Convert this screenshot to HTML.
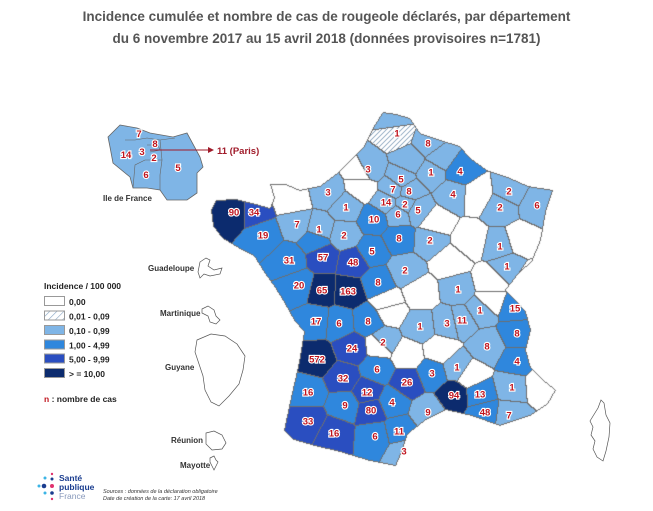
<!DOCTYPE html>
<html><head><meta charset="utf-8">
<style>
html,body{margin:0;padding:0;background:#fff;}
#wrap{position:relative;width:653px;height:511px;overflow:hidden;font-family:"Liberation Sans",sans-serif;}
.title{position:absolute;left:0;width:653px;text-align:center;font-weight:bold;font-size:13.5px;color:#555;}
canvas{position:absolute;left:0;top:0;}
svg{position:absolute;left:0;top:0;}
.il{font-size:9.5px;font-weight:bold;fill:#c0141e;stroke:#fff;stroke-width:2.2px;paint-order:stroke;text-anchor:middle;}
</style></head>
<body>
<div id="wrap">
<div class="title" style="top:9px">Incidence cumulée et nombre de cas de rougeole déclarés, par département</div>
<div class="title" style="top:31px">du 6 novembre 2017 au 15 avril 2018 (données provisoires n=1781)</div>
<canvas id="cv" width="653" height="511"></canvas>
<svg id="sv" width="653" height="511">
<defs><pattern id="hatch" width="5" height="5" patternUnits="userSpaceOnUse" patternTransform="rotate(45)"><rect width="5" height="5" fill="#fff"/><line x1="0" y1="0" x2="0" y2="5" stroke="#8aa7c4" stroke-width="1.2"/></pattern></defs>
<g>
<polygon points="120,125 137,128 150,133 173,137 187,133 200,157 203,167 197,173 197,193 187,200 167,200 160,190 147,188 133,188 130,177 113,163 110,147 108,137" fill="#7fb5e6" stroke="#666" stroke-width="0.8"/>
<polyline points="125,140 135,140 147,138 160,140 175,138" fill="none" stroke="#666" stroke-width="0.6"/>
<polyline points="160,140 162,160 160,175 160,190" fill="none" stroke="#666" stroke-width="0.6"/>
<polyline points="133,188 135,165 145,160 162,160" fill="none" stroke="#666" stroke-width="0.6"/>
<polyline points="147,145 158,145 160,150 150,152" fill="none" stroke="#666" stroke-width="0.6"/>
<text class="il" x="139" y="137">7</text>
<text class="il" x="155" y="147">8</text>
<text class="il" x="126" y="158">14</text>
<text class="il" x="142" y="155">3</text>
<text class="il" x="154" y="161">2</text>
<text class="il" x="146" y="178">6</text>
<text class="il" x="178" y="171">5</text>
</g>
<line x1="150" y1="150" x2="208" y2="150" stroke="#a01b2a" stroke-width="1"/>
<polygon points="208,147 214,150 208,153" fill="#a01b2a"/>
<text x="217" y="154" font-size="9.5" font-weight="bold" fill="#a01b2a">11 (Paris)</text>
<text x="103" y="201" font-size="8" font-weight="bold" fill="#333">Ile de France</text>
<g fill="none" stroke="#555" stroke-width="0.7">
<path d="M200,262 l6,-4 l4,2 l-2,6 l6,4 l8,-2 l-2,6 l-10,2 l-6,-2 l-4,4 l-2,-6 z"/>
<path d="M202,309 l6,-3 l6,4 l2,6 l4,4 l-4,4 l-6,-2 l-2,-6 l-6,-3 z"/>
<path d="M197,340 l14,-6 l14,2 l12,8 l8,12 l-2,14 l-4,14 l-10,12 l-10,10 l-8,-4 l-6,-12 l-2,-14 l-4,-12 l-4,-12 z"/>
<path d="M206,433 l8,-2 l8,4 l4,8 l-4,6 l-10,1 l-6,-6 z"/>
<path d="M210,458 l4,-2 l2,4 l2,2 l-2,4 l-2,4 l-2,-4 l-2,-4 z"/>
<path d="M598,408 l3,-8 l3,3 l2,12 l4,8 l-1,14 l-3,14 l-3,10 l-6,-4 l-4,-8 l2,-8 l-4,-6 l2,-8 l-3,-6 z"/>
</g>
<g font-size="8" font-weight="bold" fill="#333">
<text x="148" y="271">Guadeloupe</text>
<text x="160" y="316">Martinique</text>
<text x="165" y="370">Guyane</text>
<text x="171" y="443">Réunion</text>
<text x="180" y="468">Mayotte</text>
</g>
<g font-size="8.5" font-weight="bold" fill="#222">
<text x="44" y="289">Incidence / 100 000</text>
<rect x="44.5" y="296.5" width="20" height="9" fill="#fff" stroke="#999"/><text x="69" y="305">0,00</text>
<rect x="44.5" y="311" width="20" height="9" fill="url(#hatch)" stroke="#999"/><text x="69" y="319.5">0,01 - 0,09</text>
<rect x="44.5" y="325.5" width="20" height="9" fill="#7fb5e6" stroke="#999"/><text x="69" y="334">0,10 - 0,99</text>
<rect x="44.5" y="340" width="20" height="9" fill="#2f87dd" stroke="#999"/><text x="69" y="348.5">1,00 - 4,99</text>
<rect x="44.5" y="354" width="20" height="9" fill="#2a4ec0" stroke="#999"/><text x="69" y="362.5">5,00 - 9,99</text>
<rect x="44.5" y="368.5" width="20" height="9" fill="#0c2b6e" stroke="#999"/><text x="69" y="377">&gt; = 10,00</text>
<text x="44" y="402"><tspan fill="#c0141e">n</tspan> : nombre de cas</text>
</g>
<g>
<circle cx="52" cy="474" r="1.2" fill="#e0326e"/><circle cx="45" cy="478" r="1.5" fill="#3bb4e5"/><circle cx="52" cy="479" r="1.5" fill="#1a3d8f"/>
<circle cx="39" cy="486" r="1.5" fill="#3bb4e5"/><circle cx="44" cy="486" r="2.3" fill="#1a3d8f"/><circle cx="52" cy="486" r="2" fill="#e0326e"/>
<circle cx="45" cy="493" r="1.5" fill="#3bb4e5"/><circle cx="52" cy="493" r="1.8" fill="#1a3d8f"/><circle cx="52" cy="499" r="1.2" fill="#e0326e"/>
<text x="59" y="481" font-size="8.5" fill="#1a3d8f" font-weight="bold">Santé</text>
<text x="59" y="490" font-size="8.5" fill="#1a3d8f" font-weight="bold">publique</text>
<text x="59" y="499" font-size="8.5" fill="#8899bb">France</text>
</g>
<text x="103" y="493" font-size="5.5" font-style="italic" fill="#333">Sources : données de la déclaration obligatoire</text>
<text x="103" y="500" font-size="5.5" font-style="italic" fill="#333">Date de création de la carte: 17 avril 2018</text>
<g id="labels"></g>
</svg>
</div>
<script>
const deptX = [397,428,460,431,368,401,453,393,409,386,405,398,418,328,292,362,346,234,254,263,297,319,344,374,399,372,430,289,323,353,378,405,299,322,348,509,500,537,477,470,450,520,500,507,490,458,390,420,447,462,480,515,517,487,517,457,470,512,540,509,485,480,454,432,407,428,399,404,375,392,371,367,345,334,308,308,317,343,377,352,383,368,339,316,388,407,440,420,490,435,362,440,530,380,315,395,410];
const deptY = [133,143,171,172,169,179,194,189,191,202,204,214,210,192,200,187,207,212,212,235,224,229,235,219,238,251,240,260,257,262,282,270,285,290,291,191,207,205,195,240,262,240,246,266,282,289,310,326,323,320,310,308,333,346,361,367,375,387,385,415,412,394,395,373,382,412,431,451,436,402,410,392,405,433,421,392,359,378,369,348,342,321,323,321,303,355,350,293,300,222,172,158,280,345,240,120,160];
const deptClass = [1,2,3,2,2,2,2,2,2,2,2,2,2,2,0,0,2,5,4,3,2,2,2,3,3,3,2,3,4,4,3,2,3,5,5,2,2,2,0,0,0,0,2,2,0,2,0,2,2,2,2,3,3,2,3,2,0,2,0,2,3,3,5,3,4,2,3,2,3,3,4,4,3,4,4,3,5,4,3,4,2,3,3,3,0,0,0,0,0,0,0,2,0,0,3,2,2];
const deptCases = [1,8,4,1,3,5,4,7,8,14,2,6,5,3,-1,-1,1,90,34,19,7,1,2,10,8,5,2,31,57,48,8,2,20,65,163,2,2,6,-1,-1,-1,-1,1,1,-1,1,-1,1,3,11,1,15,8,8,4,1,-1,1,-1,7,48,13,94,3,26,9,11,3,6,4,80,12,9,16,33,16,572,32,6,24,2,8,6,17,-1,-1,-1,-1,-1,-1,-1,-1,-1,-1,-1,-1,-1];
const classColors = ['#ffffff','hatch','#7fb5e6','#2f87dd','#2a4ec0','#0c2b6e'];

const outline = [[383,112],[396,114],[410,118],[420,133],[440,140],[460,146],[470,158],[487,170],[510,178],[528,186],[553,190],[546,212],[541,240],[532,262],[520,272],[506,290],[516,300],[526,312],[531,330],[526,350],[531,368],[546,382],[556,390],[548,404],[530,416],[500,426],[472,416],[446,410],[426,420],[408,434],[402,452],[396,466],[370,461],[340,452],[315,446],[294,440],[284,430],[290,402],[299,362],[304,332],[294,320],[284,302],[274,286],[264,272],[254,256],[240,249],[222,238],[213,226],[211,210],[216,200],[236,199],[256,204],[270,208],[274,198],[270,184],[286,184],[300,190],[320,186],[336,174],[350,161],[364,146],[374,126]];

function inside(x,y){let c=false;for(let i=0,j=outline.length-1;i<outline.length;j=i++){const [xi,yi]=outline[i],[xj,yj]=outline[j];if(((yi>y)!=(yj>y))&&(x<(xj-xi)*(y-yi)/(yj-yi)+xi))c=!c;}return c;}
function hex(h){return [parseInt(h.substr(1,2),16),parseInt(h.substr(3,2),16),parseInt(h.substr(5,2),16)];}

const cv=document.getElementById('cv'),ctx=cv.getContext('2d');
const W=653,H=511,img=ctx.createImageData(W,H),owner=new Int16Array(W*H).fill(-1);
for(let y=100;y<480;y++)for(let x=200;x<570;x++){if(!inside(x+0.5,y+0.5))continue;let b=-1,bd=1e9;for(let k=0;k<deptX.length;k++){const dx=x-deptX[k],dy=(y-deptY[k])*1.05,d=dx*dx+dy*dy;if(d<bd){bd=d;b=k;}}owner[y*W+x]=b;}
for(let y=0;y<H;y++)for(let x=0;x<W;x++){const o=owner[y*W+x];if(o<0)continue;const i=(y*W+x)*4;let c;const cl=deptClass[o];
 const edge=(x+1<W&&owner[y*W+x+1]!==o)||(y+1<H&&owner[(y+1)*W+x]!==o)||owner[y*W+x-1]<0||owner[(y-1)*W+x]<0;
 if(edge)c=[110,110,110];else if(cl===1)c=(((x+y)%5)<1)?[120,150,180]:[255,255,255];else c=hex(classColors[cl]);
 img.data[i]=c[0];img.data[i+1]=c[1];img.data[i+2]=c[2];img.data[i+3]=255;}
ctx.putImageData(img,0,0);

const g=document.getElementById('labels'),NS='http://www.w3.org/2000/svg';
for(let k=0;k<deptX.length;k++){if(deptCases[k]<0)continue;
 const t=document.createElementNS(NS,'text');
 
 
 t.setAttribute('x',deptX[k]);t.setAttribute('y',deptY[k]+3.5);t.setAttribute('text-anchor','middle');
 t.setAttribute('font-size','9.5');t.setAttribute('font-weight','bold');t.setAttribute('fill','#c0141e');
 t.setAttribute('stroke','#fff');t.setAttribute('stroke-width','2.2');t.setAttribute('paint-order','stroke');
 t.textContent=deptCases[k];g.appendChild(t);}
</script>
</body></html>
